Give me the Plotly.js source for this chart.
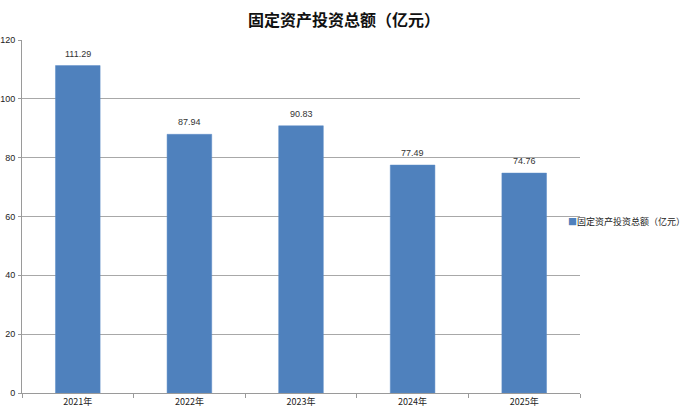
<!DOCTYPE html>
<html><head><meta charset="utf-8">
<script src="https://cdn.plot.ly/plotly-3.0.1.min.js"></script>
<style>body{margin:0;background:#fff}#c{width:688px;height:418px}</style>
</head><body><div id="c"></div>
<script>
const categories = ["2021年","2022年","2023年","2024年","2025年"];
const values = [111.29, 87.94, 90.83, 77.49, 74.76];
const seriesName = "固定资产投资总额（亿元）";
const yTicks = [0,20,40,60,80,100,120];
const barColor = "#4F81BD";

const trace = {
  type: "bar",
  x: categories,
  y: values,
  name: seriesName,
  showlegend: false,
  marker: {color: barColor, line: {color: "#5B8BC6", width: 0.5}},
  cliponaxis: false,
  hoverinfo: "none"
};
const labelAnnotations = categories.map((c, i) => ({
  x: c, y: values[i], xref: "x", yref: "y",
  text: values[i].toFixed(2), showarrow: false,
  yanchor: "bottom", yshift: 5,
  font: {family: "Liberation Sans, sans-serif", size: 9, color: "#333"}
}));
const layout = {
  width: 688, height: 418,
  margin: {l: 22, r: 108, t: 40, b: 25, autoexpand: false},
  paper_bgcolor: "#fff", plot_bgcolor: "#fff",
  bargap: 0.6,
  title: {text: "<b>" + seriesName + "</b>", x: 0.5, xref: "container", xanchor: "center",
    y: 17, yref: "container", yanchor: "middle",
    font: {family: "Noto Sans CJK SC, sans-serif", size: 16, color: "#111"}},
  xaxis: {
    type: "category", showline: true, linecolor: "#9a9a9a", linewidth: 1,
    ticks: "outside", tickson: "boundaries", ticklen: 4, tickcolor: "#9a9a9a",
    tickfont: {family: "Noto Sans CJK SC, Liberation Sans, sans-serif", size: 9, color: "#222"},
    showgrid: false
  },
  yaxis: {
    range: [0, 120], tickvals: yTicks, showline: true, linecolor: "#9a9a9a", linewidth: 1,
    ticks: "outside", ticklen: 3, tickcolor: "#9a9a9a", ticklabelstandoff: 1,
    showgrid: true, gridcolor: "#a8a8a8", gridwidth: 1, zeroline: false,
    tickfont: {family: "Liberation Sans, sans-serif", size: 9, color: "#222"}
  },
  annotations: labelAnnotations.concat([{
    xref: "paper", yref: "paper", x: 0.975, y: 0.485, xanchor: "left", yanchor: "middle",
    showarrow: false,
    text: '<span style="color:' + barColor + '">■</span>' + seriesName,
    font: {family: "Noto Sans CJK SC, sans-serif", size: 9, color: "#222"}
  }])
};
Plotly.newPlot("c", [trace], layout, {staticPlot: true, displayModeBar: false});
</script></body></html>
